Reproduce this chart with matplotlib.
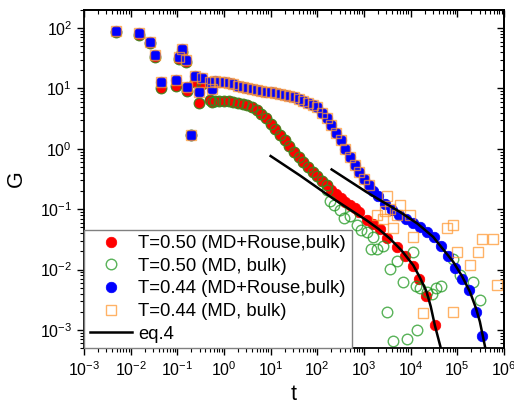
import matplotlib
matplotlib.use("Agg")
import matplotlib.pyplot as plt
from matplotlib.ticker import LogLocator, NullFormatter
import numpy as np

plt.rcParams['font.family'] = ['Liberation Sans', 'DejaVu Sans']
plt.rcParams['mathtext.fontset'] = 'custom'
plt.rcParams['mathtext.rm'] = 'Liberation Sans'
plt.rcParams['mathtext.it'] = 'Liberation Sans:italic'

# early (sparse) points, shared by MD and MD+Rouse
t_early = [0.0049, 0.015, 0.026, 0.034, 0.045, 0.095, 0.108, 0.127, 0.155, 0.163,
           0.193, 0.24, 0.29, 0.33, 0.5, 0.55]
G_early_044 = [90, 82, 60, 36, 13, 14, 33, 45, 30, 10.5, 1.7, 16, 8.7, 15, 13, 9.8]
G_early_050 = [86, 78, 56, 33, 10, 10.9, 31, 40, 28, 9, 1.7, 13, 5.7, 12, 6.5, 6.0]

# dense band
t_band = [0.631, 0.794, 1.0, 1.26, 1.58, 2.0, 2.51, 3.16, 3.98, 5.01, 6.31, 7.94,
          10, 12.6, 15.8, 20.0, 25.1, 31.6, 39.8, 50.1, 63.1, 79.4, 100, 126, 158,
          200, 251, 316, 398, 501, 631, 794]
G_band_050 = [6.2, 6.2, 6.2, 6.2, 6.0, 5.75, 5.5, 5.25, 4.9, 4.4, 3.8, 3.24,
              2.63, 2.11, 1.70, 1.38, 1.12, 0.89, 0.73, 0.61, 0.50, 0.42, 0.353, 0.295, 0.247,
              0.207, 0.178, 0.154, 0.134, 0.119, 0.105, 0.090]
G_band_044 = [13.3, 13.0, 12.7, 12.4, 11.7, 11.0, 10.4, 10.0, 9.7, 9.3, 9.0, 8.8,
              8.6, 8.4, 8.2, 7.9, 7.55, 7.2, 6.8, 6.3, 5.8, 5.4, 4.9, 4.0, 3.2,
              2.45, 1.86, 1.38, 1.0, 0.72, 0.54, 0.41]

# MD+Rouse tails
t_tail_050 = [1150, 1585, 2190, 3160, 5000, 7590, 11500, 14800, 21400, 33100]
G_tail_050 = [0.066, 0.056, 0.047, 0.033, 0.024, 0.017, 0.0115, 0.0070, 0.0037, 0.0012]
t_tail_044 = [1000, 1259, 1585, 2000, 2820, 3980, 5620, 7940, 11200, 15800, 22400,
              31600, 44700, 63100, 89100, 126000, 178000, 251000, 339000]
G_tail_044 = [0.316, 0.252, 0.204, 0.165, 0.124, 0.097, 0.080, 0.068, 0.058, 0.050, 0.042,
              0.0347, 0.0245, 0.0169, 0.0108, 0.0070, 0.0046, 0.00195, 0.0008]

# noisy long-time MD points
t_noise_050 = [161, 187, 228, 306, 372, 500, 708, 861, 1160, 1410, 1560, 1900, 2550, 3100,
               3610, 4180, 5100, 6840, 8340, 11200, 13000, 13600, 15800, 22400, 28600,
               34800, 44700, 80700, 114000, 216000, 306000]
G_noise_050 = [0.21, 0.138, 0.119, 0.098, 0.072, 0.078, 0.055, 0.046, 0.042, 0.022, 0.034,
               0.022, 0.025, 0.00195, 0.0104, 0.00065, 0.0136, 0.0061, 0.00072, 0.0199,
               0.0054, 0.00098, 0.0049, 0.0042, 0.0039, 0.0049, 0.0054, 0.0152, 0.0080,
               0.0063, 0.0031]
t_noise_044 = [1870, 2590, 2820, 3060, 3610, 4240, 5010, 5900, 9660, 11400, 18600, 59100,
               81900, 81900, 96800, 187000, 281000, 333000, 589000, 697000]
G_noise_044 = [0.079, 0.070, 0.095, 0.163, 0.102, 0.048, 0.079, 0.116, 0.079, 0.035, 0.0019,
               0.048, 0.054, 0.0020, 0.0196, 0.0118, 0.0196, 0.0325, 0.0325, 0.0055]

# eq.4 fits
t_fit_050 = [10, 42.5, 220, 1140, 2040, 3600, 6300, 11400, 15800, 22000, 27000, 33000, 43500, 47000]
G_fit_050 = [0.76, 0.362, 0.149, 0.0653, 0.0473, 0.0325, 0.021, 0.0118, 0.0074, 0.00428,
             0.00245, 0.0012, 0.00053, 0.0004]
t_fit_044 = [203, 1140, 5900, 14100, 30500, 82000, 126000, 187000, 251000, 305000, 391000, 410000]
G_fit_044 = [0.455, 0.192, 0.090, 0.0575, 0.0347, 0.0134, 0.0078, 0.00428, 0.0023, 0.00137,
             0.00054, 0.00045]

n_green = 25  # MD (T=0.50) follows the band up to t~160
n_orange = 32

red_t = t_early + t_band + t_tail_050
red_G = G_early_050 + G_band_050 + G_tail_050
green_t = t_early + t_band[:n_green] + t_noise_050
green_G = G_early_050 + G_band_050[:n_green] + G_noise_050
blue_t = t_early + t_band + t_tail_044
blue_G = G_early_044 + G_band_044 + G_tail_044
orange_t = t_early + t_band[:n_orange] + t_tail_044[:2] + t_noise_044
orange_G = G_early_044 + G_band_044[:n_orange] + G_tail_044[:2] + G_noise_044

fig = plt.figure(figsize=(5.14, 4.09), dpi=100)
ax = fig.add_axes([0.1634, 0.149, 0.817, 0.8266])

ms = 7.6
ax.plot(red_t, red_G, 'o', ms=ms, color='#ff0000', mec='#ff0000', mew=0.5,
        label='T=0.50 (MD+Rouse,bulk)')
ax.plot(green_t, green_G, 'o', ms=ms, mfc='none', mec=(0.13, 0.6, 0.13, 0.75), mew=1.0,
        label='T=0.50 (MD, bulk)')
ax.plot(blue_t, blue_G, 'o', ms=ms, color='#0000ff', mec='#0000ff', mew=0.5,
        label='T=0.44 (MD+Rouse,bulk)')
ax.plot(orange_t, orange_G, 's', ms=7.8, mfc='none', mec=(1.0, 0.6, 0.2, 0.75), mew=1.0,
        label='T=0.44 (MD, bulk)')
ax.plot(t_fit_050, G_fit_050, '-', color='black', lw=1.8, label='eq.4')
ax.plot(t_fit_044, G_fit_044, '-', color='black', lw=1.8)

ax.set_xscale('log')
ax.set_yscale('log')
ax.set_xlim(1e-3, 1e6)
ax.set_ylim(5e-4, 2e2)

for axis in (ax.xaxis, ax.yaxis):
    axis.set_major_locator(LogLocator(base=10, numticks=20))
    axis.set_minor_locator(LogLocator(base=10, subs=np.arange(2, 10), numticks=200))
    axis.set_minor_formatter(NullFormatter())

ax.tick_params(which='major', direction='out', length=5, width=1, labelsize=11.5)
ax.tick_params(which='minor', direction='out', length=3, width=0.8)
for s in ax.spines.values():
    s.set_linewidth(1.3)

same = (lambda v: v, lambda v: v)
top = ax.secondary_xaxis('top', functions=same)
right = ax.secondary_yaxis('right', functions=same)
for sec, axis in ((top, top.xaxis), (right, right.yaxis)):
    axis.set_major_locator(LogLocator(base=10, numticks=20))
    axis.set_minor_locator(LogLocator(base=10, subs=np.arange(2, 10), numticks=200))
    axis.set_major_formatter(NullFormatter())
    axis.set_minor_formatter(NullFormatter())
    sec.tick_params(which='major', direction='in', length=5, width=1)
    sec.tick_params(which='minor', direction='in', length=3, width=0.8)
    for s in sec.spines.values():
        s.set_linewidth(1.3)

ax.set_xlabel('t', fontsize=15.5)
ax.set_ylabel('G', fontsize=15.5)
ax.xaxis.set_label_coords(0.5, -0.105)
ax.yaxis.set_label_coords(-0.135, 0.5)

leg = ax.legend(loc='lower left', fontsize=13.3, frameon=True, fancybox=False,
                borderaxespad=0, handlelength=2.3, handletextpad=0.35,
                labelspacing=0.3, borderpad=0.3, framealpha=1)
leg.get_frame().set_edgecolor('#808080')
leg.get_frame().set_linewidth(1.0)

fig.savefig('out.png', dpi=100)
